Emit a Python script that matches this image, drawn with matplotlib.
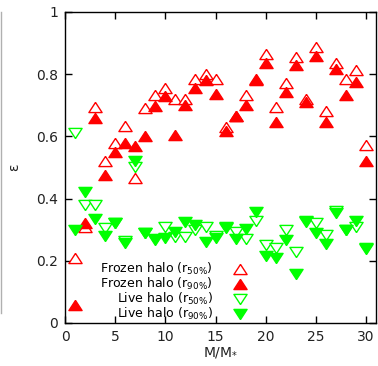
import numpy as np
import matplotlib
matplotlib.use("Agg")
import matplotlib.pyplot as plt
from matplotlib.lines import Line2D

mass = np.arange(1, 31)

frozen_r50 = [0.21, 0.31, 0.695, 0.52, 0.58, 0.633, 0.465, 0.69, 0.733, 0.755,
              0.72, 0.72, 0.785, 0.80, 0.785, 0.63, 0.665, 0.733, 0.785, 0.865,
              0.695, 0.772, 0.855, 0.72, 0.887, 0.68, 0.835, 0.785, 0.813, 0.572]
frozen_r90 = [0.058, 0.32, 0.66, 0.476, 0.55, 0.58, 0.57, 0.60, 0.698, 0.73,
              0.605, 0.70, 0.755, 0.78, 0.735, 0.618, 0.665, 0.70, 0.78, 0.835,
              0.647, 0.743, 0.83, 0.71, 0.858, 0.647, 0.815, 0.733, 0.775, 0.521]
live_r50 = [0.61, 0.38, 0.38, 0.305, 0.32, 0.265, 0.50, 0.29, 0.27, 0.31,
            0.277, 0.277, 0.30, 0.31, 0.28, 0.31, 0.293, 0.27, 0.328, 0.25,
            0.24, 0.30, 0.228, 0.325, 0.32, 0.283, 0.36, 0.30, 0.31, 0.24]
live_r90 = [0.30, 0.42, 0.335, 0.28, 0.32, 0.258, 0.52, 0.29, 0.268, 0.273,
            0.293, 0.325, 0.315, 0.26, 0.273, 0.305, 0.27, 0.302, 0.357, 0.215,
            0.208, 0.267, 0.157, 0.328, 0.29, 0.255, 0.353, 0.30, 0.328, 0.238]

labels = [r"Frozen halo (r$_{50\%}$)", r"Frozen halo (r$_{90\%}$)",
          r"Live halo (r$_{50\%}$)", r"Live halo (r$_{90\%}$)"]

red = "#ff0000"
green = "#00ff00"
ms = 9.5

# flattened triangles, wider than tall
tri_up = [(0, 0.5), (-0.65, -0.5), (0.65, -0.5), (0, 0.5)]
tri_dn = [(0, -0.5), (-0.65, 0.5), (0.65, 0.5), (0, -0.5)]

fig = plt.figure(figsize=(3.78, 3.66), dpi=100)
ax = fig.add_axes([0.172, 0.1175, 0.823, 0.85])

ax.plot(mass, frozen_r50, ls="none", marker=tri_up, ms=ms, mfc="white",
        mec=red, mew=1.0, label=labels[0])
ax.plot(mass, frozen_r90, ls="none", marker=tri_up, ms=ms, mfc=red,
        mec=red, mew=1.0, label=labels[1])
ax.plot(mass, live_r50, ls="none", marker=tri_dn, ms=ms, mfc="white",
        mec=green, mew=1.0, label=labels[2])
ax.plot(mass, live_r90, ls="none", marker=tri_dn, ms=ms, mfc=green,
        mec=green, mew=1.0, label=labels[3])

ax.set_xlim(0, 31)
ax.set_ylim(0, 1)
ax.set_xticks([0, 5, 10, 15, 20, 25, 30])
ax.set_yticks([0, 0.2, 0.4, 0.6, 0.8, 1.0])
ax.set_yticklabels(["0", "0.2", "0.4", "0.6", "0.8", "1"])
ax.tick_params(direction="in", top=True, right=True, length=5, width=1,
               labelsize=10, colors="black", labelcolor="#222222", pad=5)
for s in ax.spines.values():
    s.set_linewidth(1.0)

ax.set_xlabel(r"M/M$_{*}$", fontsize=10, color="#222222", labelpad=1)
ax.set_ylabel("ε", fontsize=10, color="#222222", labelpad=11)

ax.legend(loc="lower left", bbox_to_anchor=(0.085, -0.026), frameon=False,
          markerfirst=False, fontsize=9, handletextpad=1.2,
          labelspacing=-0.08, alignment="right", borderaxespad=0.3)

# thin grey rule along the left edge
fig.add_artist(Line2D([0.002, 0.002], [0.145, 0.967], color="#b0b0b0",
                      lw=1.0, transform=fig.transFigure))

fig.savefig("out.png", dpi=100)
